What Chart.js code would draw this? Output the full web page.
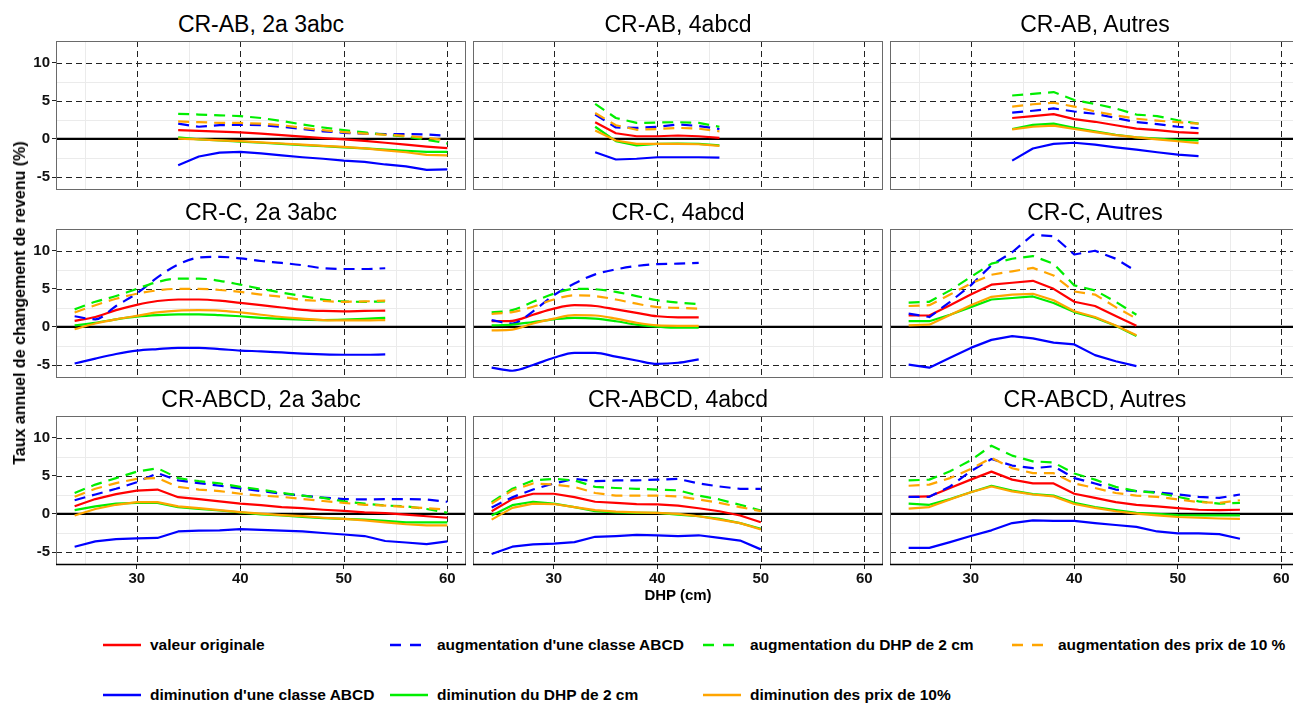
<!DOCTYPE html>
<html>
<head>
<meta charset="utf-8">
<script src="https://cdn.jsdelivr.net/npm/chart.js@4.4.1/dist/chart.umd.min.js"></script>
<style>
html,body{margin:0;padding:0;background:#fff;}
body{width:1293px;height:705px;overflow:hidden;position:relative;font-family:"Liberation Sans",Arial,Helvetica,sans-serif;color:#000;}
canvas{position:absolute;}
.ptitle{position:absolute;text-align:center;font-size:23px;line-height:23px;white-space:nowrap;}
.axt{position:absolute;font-weight:bold;white-space:nowrap;}
.lg{position:absolute;font-weight:bold;font-size:15.5px;line-height:18px;white-space:nowrap;}
.lk{position:absolute;}
</style>
</head>
<body>
<script>
// ---------------- DATA ----------------
const TITLES = ["CR-AB, 2a 3abc","CR-AB, 4abcd","CR-AB, Autres",
                "CR-C, 2a 3abc","CR-C, 4abcd","CR-C, Autres",
                "CR-ABCD, 2a 3abc","CR-ABCD, 4abcd","CR-ABCD, Autres"];
const SERIES_NAMES = ["valeur originale","augmentation d'une classe ABCD","augmentation du DHP de 2 cm","augmentation des prix de 10 %",
                      "diminution d'une classe ABCD","diminution du DHP de 2 cm","diminution des prix de 10%"];
const X_TICKS = [30,40,50,60];
const X_MINOR = [25,35,45,55];
const Y_TICKS = [-5,0,5,10];
const Y_MINOR = [-2.5,2.5,7.5];

// Panel 1 : CR-AB, 2a 3abc
const P1_DHP      = [34,36,38,40,42,44,46,48,50,52,54,56,58,60];
const P1_ORIG     = [1.15,1.05,0.95,0.85,0.7,0.5,0.3,0.1,-0.05,-0.25,-0.5,-0.75,-1.0,-1.2];
const P1_AUG_CL   = [2.0,1.6,1.8,1.85,1.8,1.6,1.3,1.0,0.8,0.7,0.65,0.65,0.6,0.4];
const P1_AUG_DHP  = [3.3,3.2,3.1,3.0,2.75,2.35,1.9,1.5,1.15,0.85,0.55,0.3,-0.1,-0.6];
const P1_AUG_PRIX = [2.3,2.2,2.1,2.1,2.0,1.8,1.45,1.15,0.9,0.7,0.55,0.4,0.15,-0.2];
const P1_DIM_CL   = [-3.45,-2.3,-1.8,-1.7,-1.9,-2.15,-2.4,-2.6,-2.85,-3.0,-3.35,-3.6,-4.05,-4.0];
const P1_DIM_DHP  = [0.2,-0.05,-0.2,-0.35,-0.5,-0.65,-0.8,-0.95,-1.1,-1.25,-1.4,-1.55,-1.7,-1.7];
const P1_DIM_PRIX = [0.05,-0.05,-0.2,-0.3,-0.45,-0.6,-0.75,-0.9,-1.05,-1.25,-1.5,-1.75,-2.1,-2.15];

// Panel 2 : CR-AB, 4abcd
const P2_DHP      = [34,36,38,40,42,44,46];
const P2_ORIG     = [2.2,0.75,0.35,0.35,0.45,0.35,0.15];
const P2_AUG_CL   = [3.2,1.5,1.45,1.6,1.9,1.7,1.3];
const P2_AUG_DHP  = [4.6,2.75,2.1,2.15,2.2,2.1,1.6];
const P2_AUG_PRIX = [3.4,1.8,1.2,1.3,1.45,1.35,1.0];
const P2_DIM_CL   = [-1.75,-2.7,-2.6,-2.4,-2.4,-2.4,-2.45];
const P2_DIM_DHP  = [1.6,-0.3,-0.85,-0.65,-0.6,-0.65,-0.85];
const P2_DIM_PRIX = [1.1,-0.2,-0.65,-0.65,-0.65,-0.7,-0.9];

// Panel 3 : CR-AB, Autres
const P3_DHP      = [34,36,38,40,42,44,46,48,50,52];
const P3_ORIG     = [2.75,3.0,3.25,2.6,2.25,1.8,1.35,1.15,0.9,0.75];
const P3_AUG_CL   = [3.45,3.7,4.0,3.6,3.3,2.75,2.2,1.95,1.6,1.4];
const P3_AUG_DHP  = [5.7,5.9,6.15,5.1,4.6,4.0,3.2,3.0,2.45,2.0];
const P3_AUG_PRIX = [4.25,4.55,4.75,4.25,3.6,3.1,2.65,2.4,2.2,2.0];
const P3_DIM_CL   = [-2.85,-1.25,-0.65,-0.5,-0.75,-1.1,-1.4,-1.75,-2.05,-2.25];
const P3_DIM_DHP  = [1.3,1.85,2.0,1.45,1.0,0.55,0.2,0.05,-0.15,-0.2];
const P3_DIM_PRIX = [1.25,1.6,1.75,1.3,0.9,0.5,0.2,-0.05,-0.3,-0.55];

// Panel 4 : CR-C, 2a 3abc
const P4_DHP      = [24,26,28,30,32,34,36,38,40,42,44,46,48,50,52,54];
const P4_ORIG     = [0.8,1.3,2.2,2.9,3.4,3.6,3.6,3.45,3.15,2.85,2.55,2.25,2.1,2.05,2.1,2.15];
const P4_AUG_CL   = [1.4,1.0,2.75,4.4,6.5,8.2,9.1,9.2,9.0,8.65,8.4,8.1,7.7,7.6,7.6,7.7];
const P4_AUG_DHP  = [2.3,3.3,4.05,5.0,5.9,6.35,6.35,6.05,5.55,5.0,4.5,4.05,3.6,3.35,3.3,3.35];
const P4_AUG_PRIX = [1.9,2.85,3.7,4.35,4.8,5.0,5.0,4.85,4.6,4.25,3.95,3.55,3.4,3.3,3.35,3.45];
const P4_DIM_CL   = [-4.8,-4.15,-3.55,-3.1,-2.9,-2.75,-2.75,-2.9,-3.1,-3.2,-3.35,-3.5,-3.6,-3.65,-3.65,-3.6];
const P4_DIM_DHP  = [0.2,0.55,1.0,1.35,1.55,1.65,1.65,1.55,1.4,1.2,1.05,0.95,0.9,0.95,1.05,1.2];
const P4_DIM_PRIX = [-0.3,0.45,1.0,1.45,1.9,2.15,2.2,2.15,1.9,1.6,1.3,1.1,0.9,0.85,0.85,0.9];

// Panel 5 : CR-C, 4abcd
const P5_DHP      = [24,26,28,30,32,34,36,38,40,42,44];
const P5_ORIG     = [0.75,0.8,1.6,2.4,2.85,2.75,2.3,1.85,1.4,1.25,1.25];
const P5_AUG_CL   = [0.9,0.45,2.05,4.15,5.7,6.9,7.55,8.0,8.25,8.3,8.4];
const P5_AUG_DHP  = [1.9,2.2,3.3,4.35,5.0,4.95,4.6,4.05,3.5,3.2,3.0];
const P5_AUG_PRIX = [1.7,1.95,2.65,3.6,4.15,4.05,3.6,3.05,2.6,2.5,2.4];
const P5_DIM_CL   = [-5.35,-5.75,-5.0,-4.05,-3.4,-3.4,-3.9,-4.4,-4.85,-4.7,-4.25];
const P5_DIM_DHP  = [0.2,0.3,0.65,1.0,1.2,1.1,0.75,0.3,0.05,-0.1,-0.1];
const P5_DIM_PRIX = [-0.45,-0.35,0.45,1.1,1.55,1.5,1.1,0.55,0.2,0.15,0.15];

// Panel 6 : CR-C, Autres
const P6_DHP      = [24,26,28,30,32,34,36,38,40,42,44,46];
const P6_ORIG     = [1.5,1.5,2.85,4.25,5.55,5.8,6.05,5.0,3.3,2.75,1.45,0.15];
const P6_AUG_CL   = [1.75,1.3,3.3,5.45,8.1,9.8,12.1,11.9,9.5,10.0,8.95,7.3];
const P6_AUG_DHP  = [3.2,3.3,4.8,6.55,8.3,8.95,9.3,8.3,5.45,4.8,3.3,1.6];
const P6_AUG_PRIX = [2.75,2.85,4.25,5.7,6.85,7.3,7.75,6.75,4.65,4.25,2.6,1.1];
const P6_DIM_CL   = [-4.95,-5.35,-4.05,-2.75,-1.7,-1.2,-1.5,-2.05,-2.3,-3.7,-4.5,-5.15];
const P6_DIM_DHP  = [0.75,0.75,1.6,2.6,3.6,3.8,4.0,3.15,1.95,1.2,0.15,-1.2];
const P6_DIM_PRIX = [0.2,0.3,1.55,2.85,3.95,4.25,4.35,3.5,2.05,1.3,0.2,-1.1];

// Panel 7 : CR-ABCD, 2a 3abc
const P7_DHP      = [24,26,28,30,32,34,36,38,40,42,44,46,48,50,52,54,56,58,60];
const P7_ORIG     = [1.0,1.95,2.6,3.05,3.2,2.2,1.95,1.65,1.35,1.15,0.9,0.75,0.55,0.4,0.2,0.1,-0.1,-0.3,-0.5];
const P7_AUG_CL   = [1.8,2.55,3.3,4.15,5.35,4.4,4.05,3.7,3.35,3.0,2.65,2.4,2.15,1.95,1.9,1.95,1.95,1.9,1.6];
const P7_AUG_DHP  = [2.75,3.85,4.7,5.55,6.0,4.7,4.3,4.0,3.55,3.2,2.75,2.4,2.1,1.65,1.35,1.1,1.0,0.65,0.15];
const P7_AUG_PRIX = [2.25,3.3,4.05,4.6,4.7,3.55,3.2,3.0,2.65,2.4,2.25,1.95,1.7,1.45,1.2,1.1,0.9,0.75,0.55];
const P7_DIM_CL   = [-4.3,-3.6,-3.3,-3.2,-3.15,-2.3,-2.2,-2.15,-2.0,-2.1,-2.2,-2.3,-2.5,-2.7,-2.9,-3.55,-3.75,-3.95,-3.6];
const P7_DIM_DHP  = [0.5,1.0,1.35,1.45,1.45,0.9,0.65,0.45,0.2,-0.05,-0.2,-0.4,-0.55,-0.65,-0.75,-0.9,-1.1,-1.1,-1.1];
const P7_DIM_PRIX = [-0.2,0.65,1.2,1.55,1.55,1.0,0.75,0.5,0.25,0.05,-0.15,-0.3,-0.5,-0.65,-0.85,-1.1,-1.35,-1.5,-1.5];

// Panel 8 : CR-ABCD, 4abcd
const P8_DHP      = [24,26,28,30,32,34,36,38,40,42,44,46,48,50];
const P8_ORIG     = [0.35,1.95,2.65,2.65,2.2,1.6,1.45,1.3,1.25,1.1,0.75,0.35,-0.2,-1.1];
const P8_AUG_CL   = [0.85,2.2,3.2,4.0,4.6,4.3,4.4,4.4,4.5,4.6,4.0,3.6,3.3,3.3];
const P8_AUG_DHP  = [1.55,3.3,4.4,4.6,4.4,3.55,3.4,3.3,3.2,3.1,2.4,1.9,1.2,0.45];
const P8_AUG_PRIX = [1.35,3.1,4.0,3.85,3.55,2.75,2.4,2.4,2.4,2.3,1.9,1.45,0.9,0.35];
const P8_DIM_CL   = [-5.25,-4.3,-4.0,-3.9,-3.7,-3.0,-2.9,-2.75,-2.8,-2.9,-2.8,-3.15,-3.5,-4.65];
const P8_DIM_DHP  = [-0.2,1.15,1.6,1.35,0.9,0.35,0.2,0.15,0.15,-0.1,-0.3,-0.65,-1.2,-1.95];
const P8_DIM_PRIX = [-0.75,0.8,1.35,1.3,0.9,0.5,0.3,0.2,0.15,0.0,-0.3,-0.75,-1.2,-2.05];

// Panel 9 : CR-ABCD, Autres
const P9_DHP      = [24,26,28,30,32,34,36,38,40,42,44,46,48,50,52,54,56];
const P9_ORIG     = [2.25,2.3,3.4,4.5,5.55,4.5,4.0,4.0,2.65,2.1,1.55,1.2,1.0,0.75,0.55,0.5,0.55];
const P9_AUG_CL   = [2.25,2.25,3.6,5.6,7.2,6.35,6.0,6.25,4.7,4.0,3.2,3.0,2.85,2.55,2.25,2.1,2.55];
const P9_AUG_DHP  = [4.4,4.5,5.6,7.05,8.95,7.65,6.9,6.75,5.3,4.5,3.55,3.0,2.75,2.25,1.65,1.35,1.45];
const P9_AUG_PRIX = [3.7,3.85,4.7,5.9,7.35,6.0,5.35,5.35,4.0,3.4,2.75,2.4,2.25,1.9,1.55,1.45,1.8];
const P9_DIM_CL   = [-4.45,-4.45,-3.7,-2.9,-2.15,-1.2,-0.85,-0.9,-0.9,-1.2,-1.45,-1.7,-2.3,-2.55,-2.55,-2.65,-3.25];
const P9_DIM_DHP  = [1.35,1.2,1.95,2.85,3.7,3.05,2.6,2.4,1.45,0.9,0.5,0.15,0.0,-0.15,-0.2,-0.2,-0.2];
const P9_DIM_PRIX = [0.7,0.9,1.9,2.85,3.6,2.95,2.55,2.3,1.3,0.8,0.35,0.05,-0.2,-0.4,-0.5,-0.6,-0.65];

// ---------------- LAYOUT / STYLE ----------------
const FONT = '"Liberation Sans", Arial, Helvetica, sans-serif';
const X_MIN = 22.2, X_MAX = 61.8, Y_MIN = -6.7, Y_MAX = 12.85;
const COLS = [56, 473, 890], ROWS = [41, 229, 416];
const W = 410, H = 149, LEFT = 56, BOTTOM = 30, PAD = 2;
const STYLES = [
  {color:'#FF0000', dash:[]},
  {color:'#0000FF', dash:[11,7]},
  {color:'#00EE00', dash:[11,7]},
  {color:'#FFA500', dash:[11,7]},
  {color:'#0000FF', dash:[]},
  {color:'#00EE00', dash:[]},
  {color:'#FFA500', dash:[]}
];

const PANELS = [
  {x:P1_DHP, s:[P1_ORIG,P1_AUG_CL,P1_AUG_DHP,P1_AUG_PRIX,P1_DIM_CL,P1_DIM_DHP,P1_DIM_PRIX], smooth:false},
  {x:P2_DHP, s:[P2_ORIG,P2_AUG_CL,P2_AUG_DHP,P2_AUG_PRIX,P2_DIM_CL,P2_DIM_DHP,P2_DIM_PRIX], smooth:false},
  {x:P3_DHP, s:[P3_ORIG,P3_AUG_CL,P3_AUG_DHP,P3_AUG_PRIX,P3_DIM_CL,P3_DIM_DHP,P3_DIM_PRIX], smooth:false},
  {x:P4_DHP, s:[P4_ORIG,P4_AUG_CL,P4_AUG_DHP,P4_AUG_PRIX,P4_DIM_CL,P4_DIM_DHP,P4_DIM_PRIX], smooth:true},
  {x:P5_DHP, s:[P5_ORIG,P5_AUG_CL,P5_AUG_DHP,P5_AUG_PRIX,P5_DIM_CL,P5_DIM_DHP,P5_DIM_PRIX], smooth:true},
  {x:P6_DHP, s:[P6_ORIG,P6_AUG_CL,P6_AUG_DHP,P6_AUG_PRIX,P6_DIM_CL,P6_DIM_DHP,P6_DIM_PRIX], smooth:false},
  {x:P7_DHP, s:[P7_ORIG,P7_AUG_CL,P7_AUG_DHP,P7_AUG_PRIX,P7_DIM_CL,P7_DIM_DHP,P7_DIM_PRIX], smooth:false},
  {x:P8_DHP, s:[P8_ORIG,P8_AUG_CL,P8_AUG_DHP,P8_AUG_PRIX,P8_DIM_CL,P8_DIM_DHP,P8_DIM_PRIX], smooth:false},
  {x:P9_DHP, s:[P9_ORIG,P9_AUG_CL,P9_AUG_DHP,P9_AUG_PRIX,P9_DIM_CL,P9_DIM_DHP,P9_DIM_PRIX], smooth:false}
];

const panelGrid = {
  id: 'panelGrid',
  beforeDatasetsDraw(chart) {
    const {ctx, chartArea: a, scales: {x, y}} = chart;
    ctx.save();
    ctx.beginPath();
    ctx.rect(a.left, a.top, a.right - a.left, a.bottom - a.top);
    ctx.clip();
    const vline = (v, sc) => { const p = Math.round(sc.getPixelForValue(v)) + 0.5; ctx.beginPath(); ctx.moveTo(p, a.top); ctx.lineTo(p, a.bottom); ctx.stroke(); };
    const hline = (v, sc) => { const p = Math.round(sc.getPixelForValue(v)) + 0.5; ctx.beginPath(); ctx.moveTo(a.left, p); ctx.lineTo(a.right, p); ctx.stroke(); };
    ctx.lineWidth = 1;
    ctx.strokeStyle = '#ebebeb';
    X_MINOR.forEach(v => vline(v, x));
    Y_MINOR.forEach(v => hline(v, y));
    ctx.strokeStyle = '#222';
    ctx.setLineDash([6, 4]);
    X_TICKS.forEach(v => vline(v, x));
    Y_TICKS.forEach(v => hline(v, y));
    ctx.setLineDash([]);
    ctx.strokeStyle = '#000';
    ctx.lineWidth = 2.2;
    const z = y.getPixelForValue(0);
    ctx.beginPath(); ctx.moveTo(a.left, z); ctx.lineTo(a.right, z); ctx.stroke();
    ctx.restore();
  },
  afterDraw(chart, args, opts) {
    const {ctx, chartArea: a} = chart;
    ctx.save();
    ctx.lineWidth = 1;
    ctx.strokeStyle = '#6a6a6a';
    ctx.strokeRect(Math.round(a.left) + 0.5, Math.round(a.top) + 0.5, Math.round(a.right - a.left) - 1, Math.round(a.bottom - a.top) - 1);
    if (opts.bottomAxis) {
      ctx.strokeStyle = '#000';
      ctx.lineWidth = 1.6;
      ctx.beginPath(); ctx.moveTo(a.left, a.bottom - 0.5); ctx.lineTo(a.right, a.bottom - 0.5); ctx.stroke();
    }
    ctx.restore();
  }
};

PANELS.forEach((p, i) => {
  const r = Math.floor(i / 3), c = i % 3;
  const cw = LEFT + W + PAD, ch = PAD + H + BOTTOM;
  const cv = document.createElement('canvas');
  cv.width = cw; cv.height = ch;
  cv.style.left = (COLS[c] - LEFT) + 'px';
  cv.style.top = (ROWS[r] - PAD) + 'px';
  cv.style.width = cw + 'px';
  cv.style.height = ch + 'px';
  document.body.appendChild(cv);

  const tickFont = {family: FONT, size: 15, weight: 'bold'};
  new Chart(cv, {
    type: 'line',
    data: {
      datasets: p.s.map((ys, k) => ({
        label: SERIES_NAMES[k],
        data: p.x.map((xv, j) => ({x: xv, y: ys[j]})),
        borderColor: STYLES[k].color,
        backgroundColor: STYLES[k].color,
        borderWidth: 2.2,
        borderDash: STYLES[k].dash,
        borderCapStyle: 'butt',
        borderJoinStyle: 'round',
        pointRadius: 0,
        pointHoverRadius: 0,
        fill: false,
        tension: 0,
        cubicInterpolationMode: p.smooth ? 'monotone' : 'default',
        order: 10 - k
      }))
    },
    options: {
      responsive: false,
      animation: false,
      devicePixelRatio: 1,
      events: [],
      layout: {padding: {left: 0, top: PAD, right: PAD, bottom: 0}},
      plugins: {
        legend: {display: false},
        tooltip: {enabled: false},
        title: {display: false},
        panelGrid: {bottomAxis: r === 2}
      },
      scales: {
        x: {
          type: 'linear', min: X_MIN, max: X_MAX,
          afterBuildTicks: s => { s.ticks = X_TICKS.map(v => ({value: v})); },
          afterFit: s => { s.height = BOTTOM; s.paddingLeft = 0; s.paddingRight = 0; },
          ticks: {display: r === 2, font: tickFont, color: '#111', padding: 1, maxRotation: 0, autoSkip: false},
          grid: {drawOnChartArea: false, drawTicks: r === 2, tickLength: 4, tickColor: '#222', tickWidth: 1},
          border: {display: false}
        },
        y: {
          type: 'linear', min: Y_MIN, max: Y_MAX,
          afterBuildTicks: s => { s.ticks = Y_TICKS.map(v => ({value: v})); },
          afterFit: s => { s.width = LEFT; s.paddingTop = 0; s.paddingBottom = 0; },
          ticks: {display: c === 0, font: tickFont, color: '#111', padding: 2, autoSkip: false},
          grid: {drawOnChartArea: false, drawTicks: c === 0, tickLength: 4, tickColor: '#222', tickWidth: 1},
          border: {display: false}
        }
      }
    },
    plugins: [panelGrid]
  });

  const t = document.createElement('div');
  t.className = 'ptitle';
  t.textContent = TITLES[i];
  t.style.left = COLS[c] + 'px';
  t.style.width = W + 'px';
  t.style.top = (ROWS[r] - 28) + 'px';
  document.body.appendChild(t);
});

// Axis titles
const yt = document.createElement('div');
yt.className = 'axt';
yt.textContent = 'Taux annuel de changement de revenu (%)';
yt.style.fontSize = '16px';
yt.style.left = '20px';
yt.style.top = '303px';
yt.style.transform = 'translate(-50%,-50%) rotate(-90deg)';
document.body.appendChild(yt);

const xt = document.createElement('div');
xt.className = 'axt';
xt.textContent = 'DHP (cm)';
xt.style.fontSize = '15px';
xt.style.left = '678px';
xt.style.top = '594px';
xt.style.transform = 'translate(-50%,-50%)';
document.body.appendChild(xt);

// Legend
const LEG_KEY_X = [[103, 390, 703, 1012], [103, 390, 703]];
const LEG_TXT_X = [[150, 437, 750, 1058], [150, 437, 750]];
const LEG_Y = [645, 695];
const LEG_ITEMS = [[0, 1, 2, 3], [4, 5, 6]];
const SVGNS = 'http://www.w3.org/2000/svg';
LEG_ITEMS.forEach((row, ri) => {
  row.forEach((k, j) => {
    const svg = document.createElementNS(SVGNS, 'svg');
    svg.setAttribute('width', '38'); svg.setAttribute('height', '10');
    svg.setAttribute('class', 'lk');
    svg.style.left = LEG_KEY_X[ri][j] + 'px';
    svg.style.top = (LEG_Y[ri] - 5) + 'px';
    const ln = document.createElementNS(SVGNS, 'line');
    ln.setAttribute('x1', '0'); ln.setAttribute('x2', '38');
    ln.setAttribute('y1', '5'); ln.setAttribute('y2', '5');
    ln.setAttribute('stroke', STYLES[k].color);
    ln.setAttribute('stroke-width', '2.6');
    if (STYLES[k].dash.length) ln.setAttribute('stroke-dasharray', '11 9');
    svg.appendChild(ln);
    document.body.appendChild(svg);
    const tx = document.createElement('div');
    tx.className = 'lg';
    tx.textContent = SERIES_NAMES[k];
    tx.style.left = LEG_TXT_X[ri][j] + 'px';
    tx.style.top = (LEG_Y[ri] - 9) + 'px';
    document.body.appendChild(tx);
  });
});
</script>
</body>
</html>
